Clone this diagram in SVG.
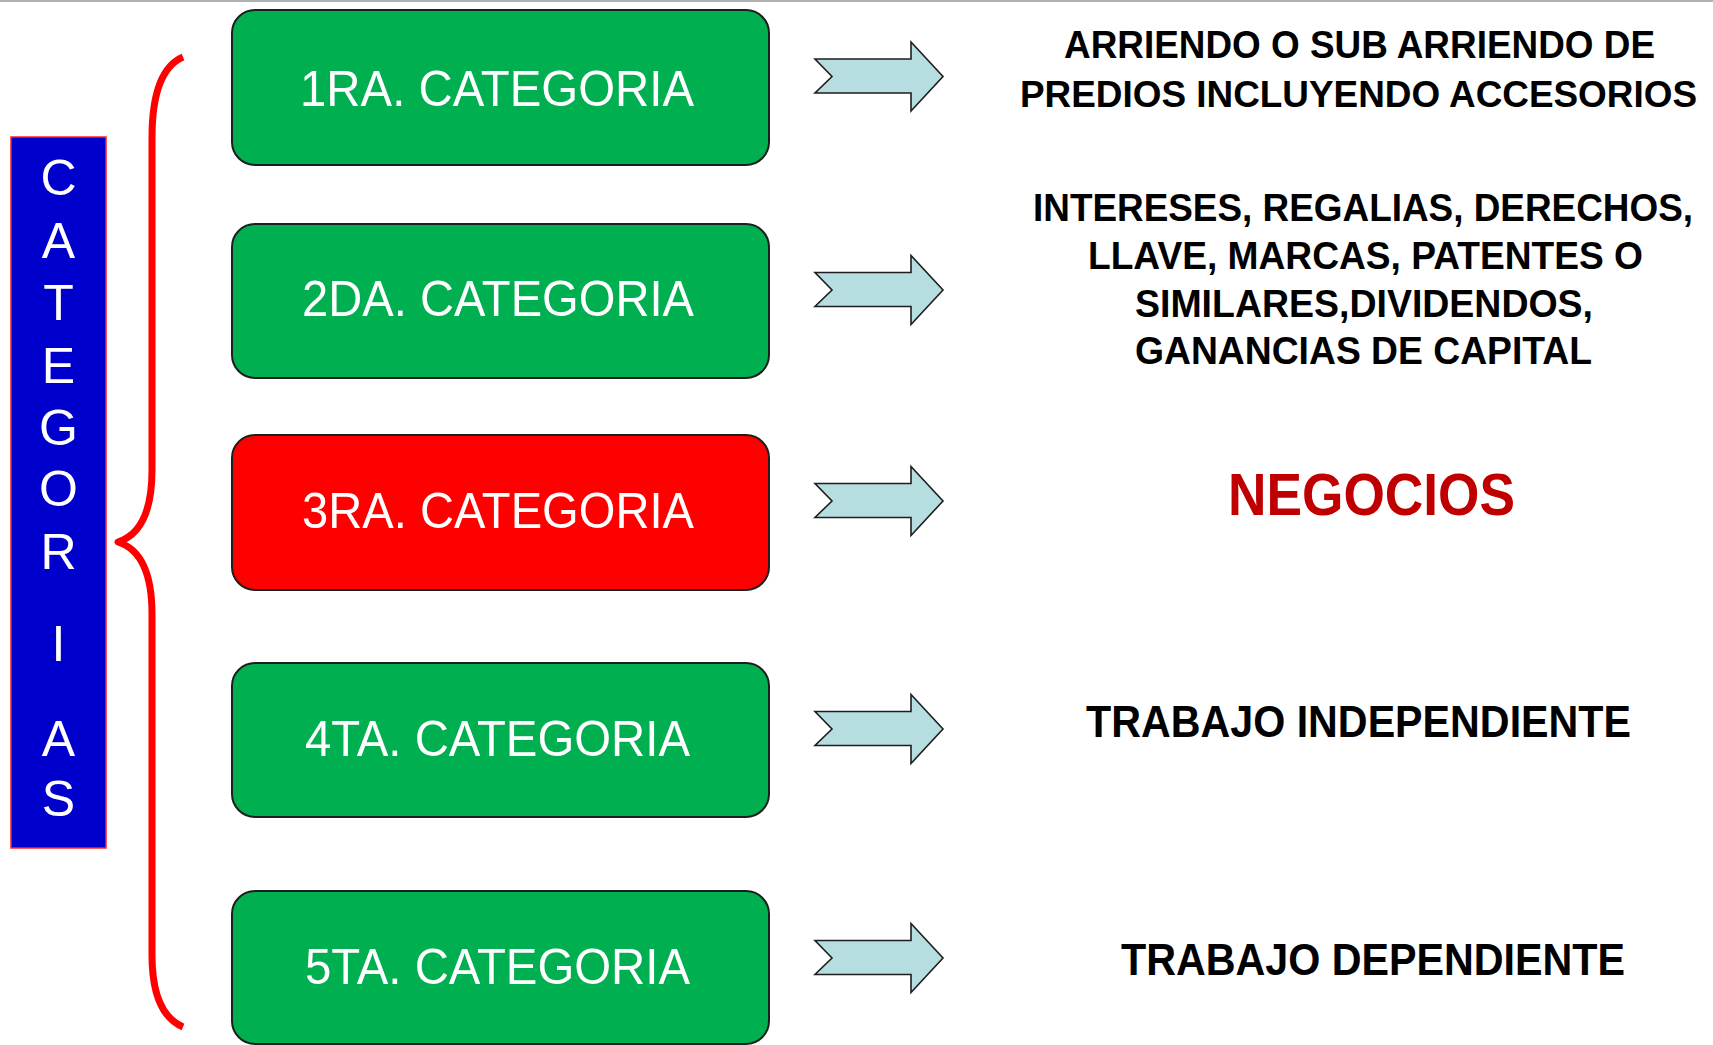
<svg xmlns="http://www.w3.org/2000/svg" width="1713" height="1045" viewBox="0 0 1713 1045">
<style>
.box{stroke:#1e1e1e;stroke-width:2}
.green{fill:#00B050}
.red{fill:#FF0000}
.bt{font-family:"Liberation Sans",Arial,sans-serif;font-size:50px;fill:#fff}
.vt{font-family:"Liberation Sans",Arial,sans-serif;font-size:50px;fill:#fff;text-anchor:middle}
.rt{font-family:"Liberation Sans",Arial,sans-serif;font-weight:bold;font-size:38px;fill:#000}
.arrow{fill:#B6DDE0;stroke:#1e1e1e;stroke-width:1.6;stroke-linejoin:miter}
</style>
<defs>
<path id="blockArrow" class="arrow" d="M815,59 L911,59 L911,42 L943,76.5 L911,111 L911,93 L815,93 L832,76.5 Z"/>
</defs>
<rect x="0" y="0" width="1713" height="1045" fill="#fff"/>
<rect x="0" y="0" width="1713" height="2" fill="#b0b0b0"/>

<g id="categorias">
<rect x="11" y="137" width="95" height="711" fill="#0000CC" stroke="#FF2020" stroke-width="1.5"/>
<text class="vt" x="58.5" y="195">C</text>
<text class="vt" x="58.5" y="258">A</text>
<text class="vt" x="58.5" y="320">T</text>
<text class="vt" x="58.5" y="383">E</text>
<text class="vt" x="58.5" y="445">G</text>
<text class="vt" x="58.5" y="506">O</text>
<text class="vt" x="58.5" y="569">R</text>
<text class="vt" x="58.5" y="661">I</text>
<text class="vt" x="58.5" y="756">A</text>
<text class="vt" x="58.5" y="816">S</text>
</g>

<g id="brace">
<path d="M183,57 C162,66 152,95 152,138 L152,470 C152,512 140,535 118,542 C140,549 152,572 152,614 L152,955 C152,995 162,1018 183,1027" fill="none" stroke="#FF0000" stroke-width="7" stroke-linejoin="round"/>
</g>

<g id="cat1">
<rect class="box green" x="232" y="10" width="537" height="155" rx="23" ry="23"/>
<text class="bt" x="300" y="106" textLength="394" lengthAdjust="spacingAndGlyphs">1RA. CATEGORIA</text>
</g>
<g id="cat2">
<rect class="box green" x="232" y="224" width="537" height="154" rx="23" ry="23"/>
<text class="bt" x="302" y="316" textLength="392" lengthAdjust="spacingAndGlyphs">2DA. CATEGORIA</text>
</g>
<g id="cat3">
<rect class="box red" x="232" y="435" width="537" height="155" rx="23" ry="23"/>
<text class="bt" x="302" y="528" textLength="392" lengthAdjust="spacingAndGlyphs">3RA. CATEGORIA</text>
</g>
<g id="cat4">
<rect class="box green" x="232" y="663" width="537" height="154" rx="23" ry="23"/>
<text class="bt" x="305" y="756" textLength="385" lengthAdjust="spacingAndGlyphs">4TA. CATEGORIA</text>
</g>
<g id="cat5">
<rect class="box green" x="232" y="891" width="537" height="153" rx="23" ry="23"/>
<text class="bt" x="305" y="984" textLength="385" lengthAdjust="spacingAndGlyphs">5TA. CATEGORIA</text>
</g>

<g id="connectors">
<use href="#blockArrow"/>
<use href="#blockArrow" transform="translate(0,213.5)"/>
<use href="#blockArrow" transform="translate(0,424.5)"/>
<use href="#blockArrow" transform="translate(0,652.5)"/>
<use href="#blockArrow" transform="translate(0,881.5)"/>
</g>

<g id="desc1">
<text class="rt" x="1064" y="58" textLength="591" lengthAdjust="spacingAndGlyphs">ARRIENDO O SUB ARRIENDO DE</text>
<text class="rt" x="1020" y="107" textLength="677" lengthAdjust="spacingAndGlyphs" style="font-size:37px">PREDIOS INCLUYENDO ACCESORIOS</text>
</g>
<g id="desc2">
<text class="rt" x="1033" y="221" textLength="660" lengthAdjust="spacingAndGlyphs">INTERESES, REGALIAS, DERECHOS,</text>
<text class="rt" x="1088" y="269" textLength="555" lengthAdjust="spacingAndGlyphs">LLAVE, MARCAS, PATENTES O</text>
<text class="rt" x="1135" y="317" textLength="458" lengthAdjust="spacingAndGlyphs">SIMILARES,DIVIDENDOS,</text>
<text class="rt" x="1135" y="364" textLength="457" lengthAdjust="spacingAndGlyphs">GANANCIAS DE CAPITAL</text>
</g>
<g id="desc3">
<text x="1228" y="515" textLength="287" lengthAdjust="spacingAndGlyphs" style="font-family:'Liberation Sans',Arial,sans-serif;font-weight:bold;font-size:60px;fill:#C00000">NEGOCIOS</text>
</g>
<g id="desc4">
<text class="rt" x="1086" y="737" textLength="545" lengthAdjust="spacingAndGlyphs" style="font-size:44px">TRABAJO INDEPENDIENTE</text>
</g>
<g id="desc5">
<text class="rt" x="1121" y="975" textLength="504" lengthAdjust="spacingAndGlyphs" style="font-size:44px">TRABAJO DEPENDIENTE</text>
</g>
</svg>
